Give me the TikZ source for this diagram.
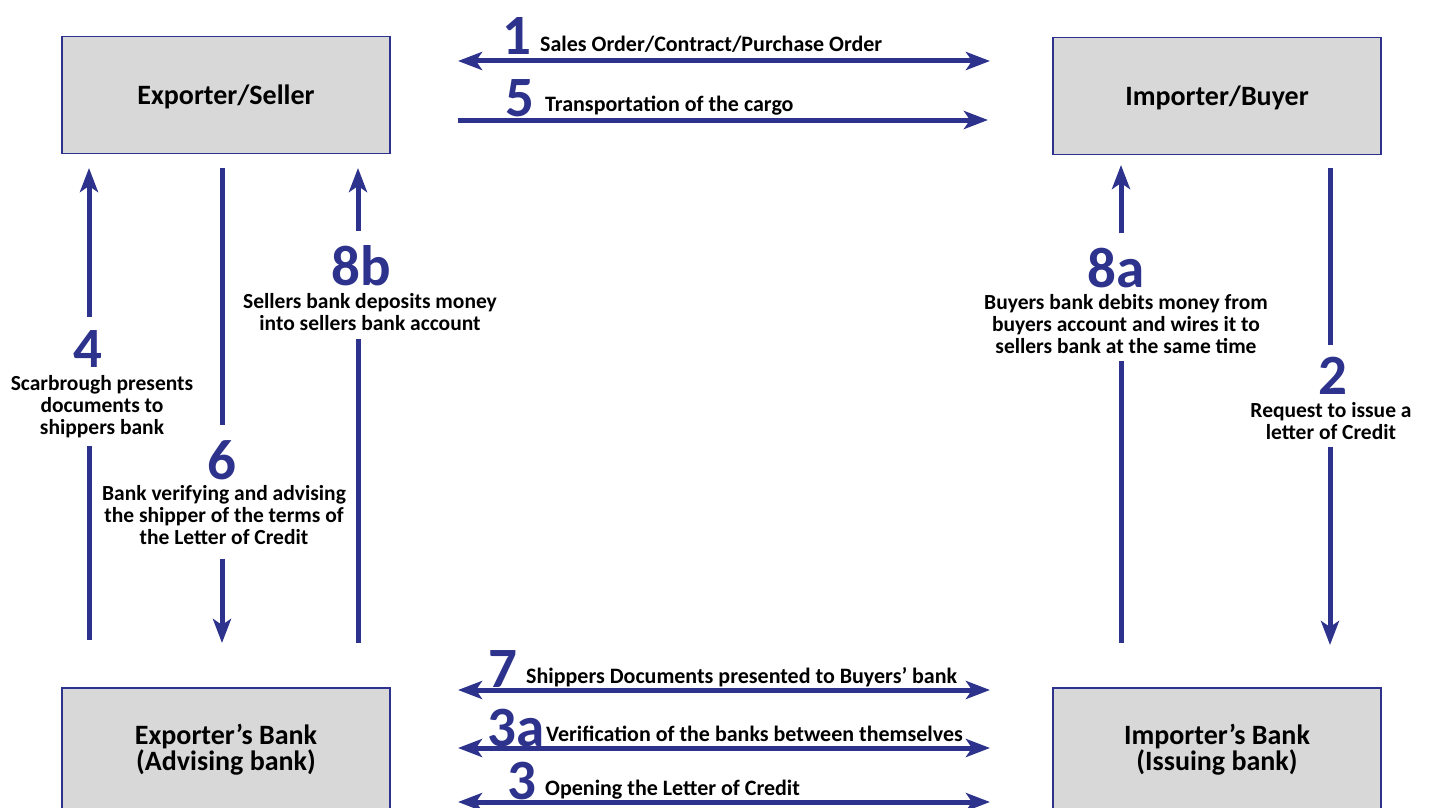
\documentclass[tikz,border=0pt]{standalone}
\usepackage{fontspec}
\setmainfont{Carlito}
\usetikzlibrary{arrows.meta, positioning}
\definecolor{lcnavy}{RGB}{45, 50, 140}
\definecolor{lcgray}{RGB}{216, 216, 216}

\tikzset{
  party/.style={draw=lcnavy, line width=1.5pt, fill=lcgray, minimum width=328pt, minimum height=117pt, align=center, font=\fontsize{28}{19}\selectfont\bfseries},
  flow/.style={draw=lcnavy, line width=5pt},
  >={Stealth[length=24pt, width=18pt, inset=6pt]},
  stepnum/.style={text=lcnavy, inner sep=0pt, font=\fontsize{57}{57}\selectfont\bfseries},
  steptxt/.style={inner sep=0pt, align=center, font=\fontsize{21.5}{22}\selectfont\bfseries},
  flowtxt/.style={inner sep=0pt, font=\fontsize{22}{22}\selectfont\bfseries},
}

\begin{document}
\begin{tikzpicture}[x=1pt, y=-1pt]
  \path[use as bounding box, clip] (0,0) rectangle (1430,808);

  % Parties and their banks
  \node[party, text depth=-4pt] (seller) at (226,95) {Exporter/Seller};
  \node[party, text depth=-4pt] (buyer) at (1217,96) {Importer/Buyer};
  \node[party, minimum height=124pt] (advbank) at (226,750) {Exporter's Bank\\(Advising bank)};
  \node[party, minimum height=124pt] (issbank) at (1217,750) {Importer's Bank\\(Issuing bank)};

  % Top flows
  \coordinate (h1l) at (458,61); \coordinate (h1r) at (990,61);
  \draw[flow, <->] (h1l) -- (h1r);
  \node[stepnum, anchor=base east] (n1) at (532,55) {1};
  \node[flowtxt, anchor=base west] (t1) at (540,52) {Sales Order/Contract/Purchase Order};

  \coordinate (h5l) at (458,120); \coordinate (h5r) at (988,120);
  \draw[flow, ->] (h5l) -- (h5r);
  \node[stepnum, anchor=base east] (n5) at (535,117) {5};
  \node[flowtxt, anchor=base west] (t5) at (545,111) {Transportation of the cargo};

  % Bottom flows
  \coordinate (h7l) at (458,690); \coordinate (h7r) at (990,690);
  \draw[flow, <->] (h7l) -- (h7r);
  \node[stepnum, anchor=base east] (n7) at (518,687) {7};
  \node[flowtxt, anchor=base west] (t7) at (526,683) {Shippers Documents presented to Buyers' bank};

  \coordinate (h3al) at (458,748); \coordinate (h3ar) at (990,748);
  \draw[flow, <->] (h3al) -- (h3ar);
  \node[stepnum, anchor=base east] (n3a) at (545,746) {3a};
  \node[flowtxt, anchor=base west] (t3a) at (546,741) {Verification of the banks between themselves};

  \coordinate (h3l) at (458,802); \coordinate (h3r) at (990,802);
  \draw[flow, <->] (h3l) -- (h3r);
  \node[stepnum, anchor=base east] (n3) at (537,799) {3};
  \node[flowtxt, anchor=base west] (t3) at (545,795) {Opening the Letter of Credit};

  % Seller side
  \coordinate (v4b) at (89,640); \coordinate (v4t) at (89,168);
  \node[stepnum, anchor=base] (n4) at (88,367) {4};
  \node[steptxt, anchor=north] (t4) at (102,375) {Scarbrough presents\\documents to\\shippers bank};
  \draw[flow, shorten >=8pt] (v4b) -- (v4b |- t4.south);
  \draw[flow, ->, shorten <=13pt] (v4t |- n4.north) -- (v4t);

  \coordinate (v6t) at (222,168); \coordinate (v6b) at (222,643);
  \node[stepnum, anchor=base] (n6) at (222,479) {6};
  \node[steptxt, anchor=north] (t6) at (224,485) {Bank verifying and advising\\the shipper of the terms of\\the Letter of Credit};
  \draw[flow, shorten >=15pt] (v6t) -- (v6t |- n6.north);
  \draw[flow, ->, shorten <=14pt] (v6b |- t6.south) -- (v6b);

  \coordinate (v8bb) at (358,643); \coordinate (v8bt) at (358,168);
  \node[stepnum, anchor=base] (n8b) at (361,285) {8b};
  \node[steptxt, anchor=north] (t8b) at (370,293) {Sellers bank deposits money\\into sellers bank account};
  \draw[flow, shorten >=8pt] (v8bb) -- (v8bb |- t8b.south);
  \draw[flow, ->, shorten <=14pt] (v8bt |- n8b.north) -- (v8bt);

  % Buyer side
  \coordinate (v8ab) at (1121,643); \coordinate (v8at) at (1121,165);
  \node[stepnum, anchor=base] (n8a) at (1116,287) {8a};
  \node[steptxt, anchor=north] (t8a) at (1126,294) {Buyers bank debits money from\\buyers account and wires it to\\sellers bank at the same time};
  \draw[flow, shorten >=7pt] (v8ab) -- (v8ab |- t8a.south);
  \draw[flow, ->, shorten <=14pt] (v8at |- n8a.north) -- (v8at);

  \coordinate (v2t) at (1330,168); \coordinate (v2b) at (1330,645);
  \node[stepnum, anchor=base] (n2) at (1333,394) {2};
  \node[steptxt, anchor=north] (t2) at (1331,402) {Request to issue a\\letter of Credit};
  \draw[flow, shorten >=11pt] (v2t) -- (v2t |- n2.north);
  \draw[flow, ->, shorten <=7pt] (v2b |- t2.south) -- (v2b);
\end{tikzpicture}
\end{document}
